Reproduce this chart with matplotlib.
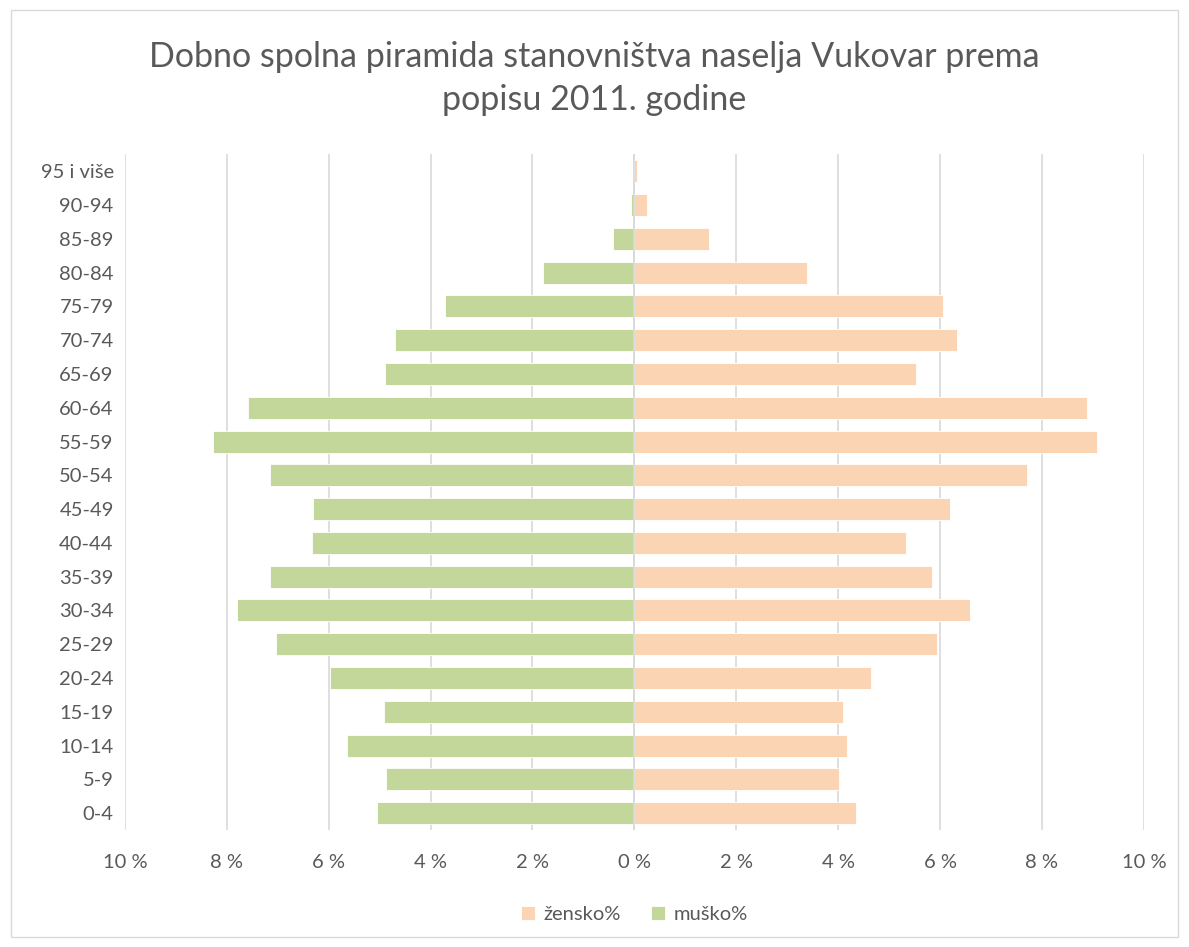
import matplotlib
matplotlib.use("Agg")
import matplotlib.pyplot as plt
from matplotlib.patches import Rectangle
import numpy as np

groups = ["0-4", "5-9", "10-14", "15-19", "20-24", "25-29", "30-34", "35-39",
          "40-44", "45-49", "50-54", "55-59", "60-64", "65-69", "70-74",
          "75-79", "80-84", "85-89", "90-94", "95 i više"]
musko = [5.06, 4.87, 5.63, 4.91, 5.97, 7.03, 7.79, 7.15, 6.32, 6.30,
         7.15, 8.27, 7.58, 4.89, 4.69, 3.71, 1.79, 0.42, 0.06, 0.0]
zensko = [4.36, 4.02, 4.18, 4.10, 4.65, 5.95, 6.58, 5.85, 5.34, 6.20,
          7.71, 9.09, 8.89, 5.53, 6.34, 6.06, 3.39, 1.47, 0.25, 0.05]
xticks = [-10, -8, -6, -4, -2, 0, 2, 4, 6, 8, 10]

txt = "#595959"
plt.rcParams['font.family'] = ['Lato', 'DejaVu Sans']

fig = plt.figure(figsize=(11.89, 9.47), dpi=100)
ax = fig.add_axes([0.105, 0.1235, 0.857, 0.7135])

y = np.arange(len(groups))
ax.barh(y, zensko, height=0.65, color="#FBD4B4", edgecolor="white", linewidth=0.6,
        label="žensko%", zorder=3)
ax.barh(y, [-v for v in musko], height=0.65, color="#C4D79B", edgecolor="white",
        linewidth=0.6, label="muško%", zorder=3)

ax.set_xlim(-10, 10)
ax.set_ylim(-0.5, len(groups) - 0.5)
ax.set_xticks(xticks)
ax.set_xticklabels(["%d %%" % abs(t) for t in xticks], color=txt, fontsize=14.5)
ax.set_yticks(y)
ax.set_yticklabels(groups, color=txt, fontsize=14.5)
ax.tick_params(axis="both", length=0, pad=8)
ax.tick_params(axis="x", pad=17)
ax.grid(axis="x", color="#D9D9D9", linewidth=1.2, zorder=0)
ax.axvline(0, color="#D9D9D9", linewidth=1.2, zorder=4)
for s in ax.spines.values():
  s.set_visible(False)

fig.suptitle("Dobno spolna piramida stanovništva naselja Vukovar prema\npopisu 2011. godine",
             y=0.957, fontsize=24.5, color=txt, linespacing=1.45)

ax.legend(loc="center", bbox_to_anchor=(0.5, -0.125), ncol=2, frameon=False,
          fontsize=14.5, labelcolor=txt, handlelength=0.7, handleheight=0.7,
          columnspacing=1.5, handletextpad=0.4)

fig.patches.append(Rectangle((0.009, 0.011), 0.982, 0.978, transform=fig.transFigure,
                             fill=False, edgecolor="#D9D9D9", linewidth=1))

fig.savefig("out.png", dpi=100)
